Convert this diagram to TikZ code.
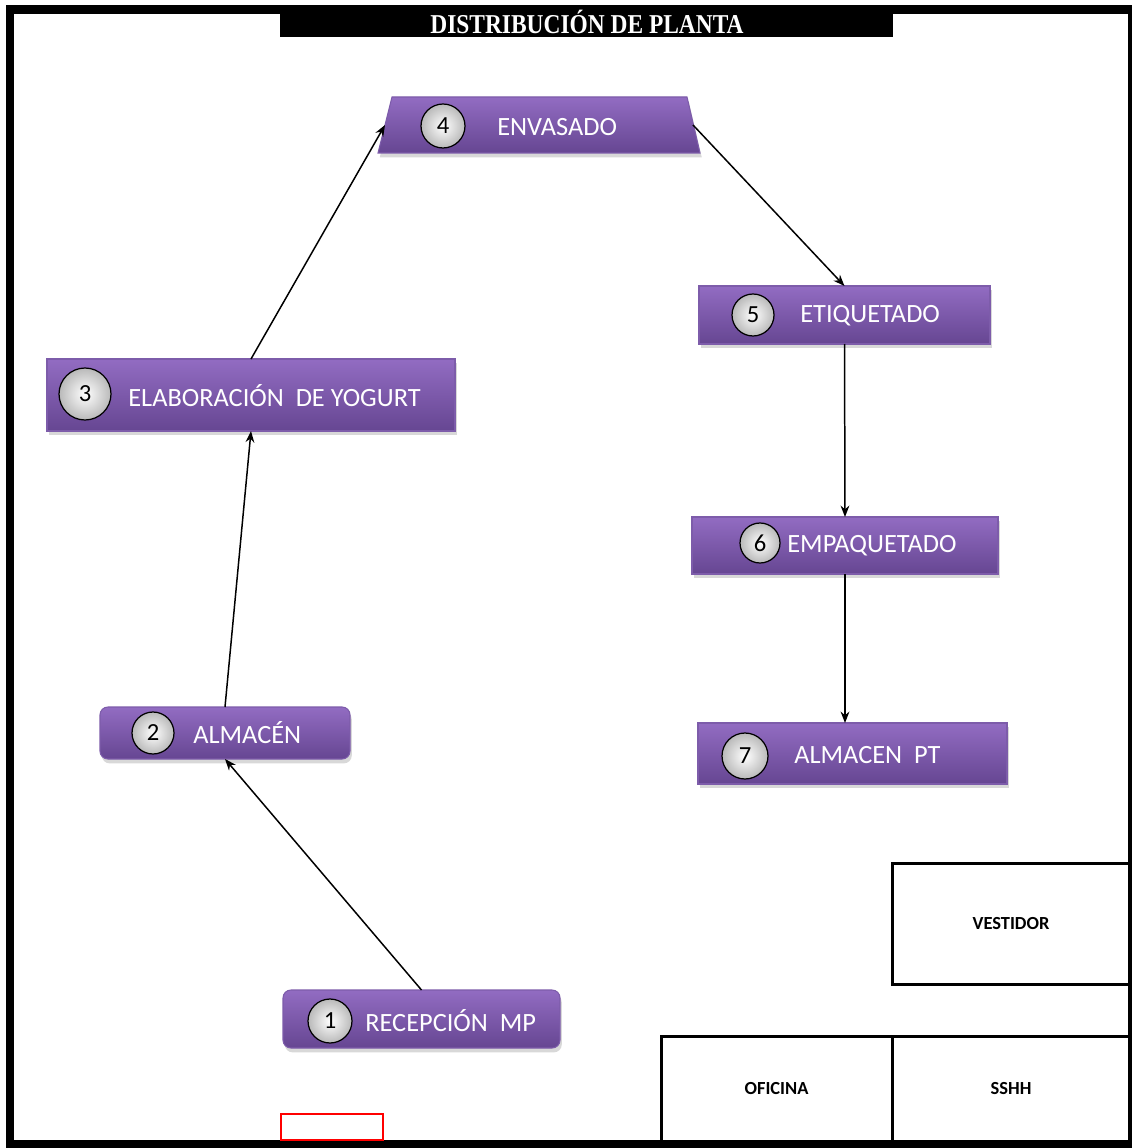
\documentclass[tikz,border=0pt]{standalone}
\usepackage{fontspec}
\usepackage{graphicx}
\setmainfont{Carlito}
\newfontfamily\titlefont{Liberation Serif}
\usetikzlibrary{arrows.meta,shadows,fit,calc}
\definecolor{pTop}{RGB}{146,108,194}
\definecolor{pBot}{RGB}{102,70,146}
\definecolor{pEdge}{RGB}{125,92,170}
\definecolor{cOut}{RGB}{185,185,185}
\tikzset{
  stage/.style={draw=pEdge, line width=0.6pt, top color=pTop, bottom color=pBot,
    drop shadow={opacity=0.3, shadow xshift=1pt, shadow yshift=-2.5pt}},
  roundstage/.style={stage, rounded corners=4.5pt},
  fitbox/.style={inner sep=0pt, outer sep=0pt},
  numcirc/.style={circle, draw=black, line width=0.7pt, inner sep=0pt,
    inner color=white, outer color=cOut, font=\fontsize{14}{16}\selectfont},
  lbl/.style={text=white, font=\fontsize{15}{17}\selectfont, inner sep=0pt, anchor=west},
  flow/.style={-{Stealth[length=6.5pt,width=5pt]}, line width=0.85pt, black},
  room/.style={draw=black, line width=1.7pt, inner sep=0pt},
  roomlbl/.style={font=\bfseries\fontsize{10.5}{12}\selectfont, inner sep=0pt},
}
\begin{document}
\begin{tikzpicture}[x=0.02cm,y=-0.02cm]
\useasboundingbox (0,0) rectangle (1132,1148);
\fill[white] (0,0) rectangle (1132,1148);
% outer frame
\fill[black] (6,5) rectangle (14,1148);
\fill[black] (6,5) rectangle (1132,14);
\fill[black] (1128,5) rectangle (1132,1148);
\fill[black] (6,1140) rectangle (1132,1148);
% title bar
\fill[black] (280,5) rectangle (893,37);
\node[text=white, inner sep=0pt, font=\titlefont\bfseries\fontsize{15.5}{16}\selectfont] (title) at (587,22)
  {\scalebox{0.86}[1]{DISTRIBUCIÓN DE PLANTA}};

% stage 1
\node[roundstage, fitbox, fit={(283,990) (560,1048)}] (n1) {};
\node[numcirc, minimum size=0.88cm] (c1) at (330,1021) {1};
\node[lbl] (t1) at (365,1021) {RECEPCIÓN\ \ MP};
% stage 2
\node[roundstage, fitbox, fit={(100,707) (350,759)}] (n2) {};
\node[numcirc, minimum size=0.84cm] (c2) at (153,733) {2};
\node[lbl] (t2) at (193,733) {ALMACÉN};
% stage 3
\node[stage, fitbox, fit={(47,359) (455,431)}] (n3) {};
\node[numcirc, minimum size=1.04cm] (c3) at (85,394) {3};
\node[lbl] (t3) at (128,396) {ELABORACIÓN\ \ DE YOGURT};
% stage 4 (trapezoid)
\node[fitbox, fit={(385,97) (693,153)}] (n4) {};
\path[stage] (378,153) -- (392,97) -- (687,97) -- (700,153) -- cycle;
\node[numcirc, minimum size=0.88cm] (c4) at (443,126) {4};
\node[lbl] (t4) at (497,127) {ENVASADO};
% stage 5
\node[stage, fitbox, fit={(699,286) (990,344)}] (n5) {};
\node[numcirc, minimum size=0.84cm] (c5) at (753,315) {5};
\node[lbl] (t5) at (800,316) {ETIQUETADO};
% stage 6
\node[stage, fitbox, fit={(692,517) (998,574)}] (n6) {};
\node[numcirc, minimum size=0.8cm] (c6) at (760,543) {6};
\node[lbl] (t6) at (787,546) {EMPAQUETADO};
% stage 7
\node[stage, fitbox, fit={(698,723) (1007,784)}] (n7) {};
\node[numcirc, minimum size=0.92cm] (c7) at (745,756) {7};
\node[lbl] (t7) at (794,755) {ALMACEN\ \ PT};

% connectors
\draw[flow] (n1.north) -- (n2.south);
\draw[flow] (n2.north) -- (n3.south);
\draw[flow] (n3.north) -- (n4.west);
\draw[flow] (n4.east) -- (n5.north);
\draw[flow] (n5.south) -- (n6.north);
\draw[flow] (n6.south) -- (n7.north -| n6.south);

% rooms
\node[room, fit={(892,863) (1130,984)}] (vest) {};
\node[roomlbl] (vestl) at (vest.center) {VESTIDOR};
\node[room, fit={(661,1036) (892,1141)}] (ofi) {};
\node[roomlbl] (ofil) at (ofi.center) {OFICINA};
\node[room, fit={(892,1036) (1130,1141)}] (ss) {};
\node[roomlbl] (ssl) at (ss.center) {SSHH};
% repaint bottom frame over rooms
\fill[black] (6,1140) rectangle (1132,1148);
\fill[black] (1128,5) rectangle (1132,1148);

% red marker
\node[draw=red, line width=1.3pt, fill=white, inner sep=0pt, fit={(281,1114) (383,1140)}] (door) {};
\end{tikzpicture}
\end{document}
